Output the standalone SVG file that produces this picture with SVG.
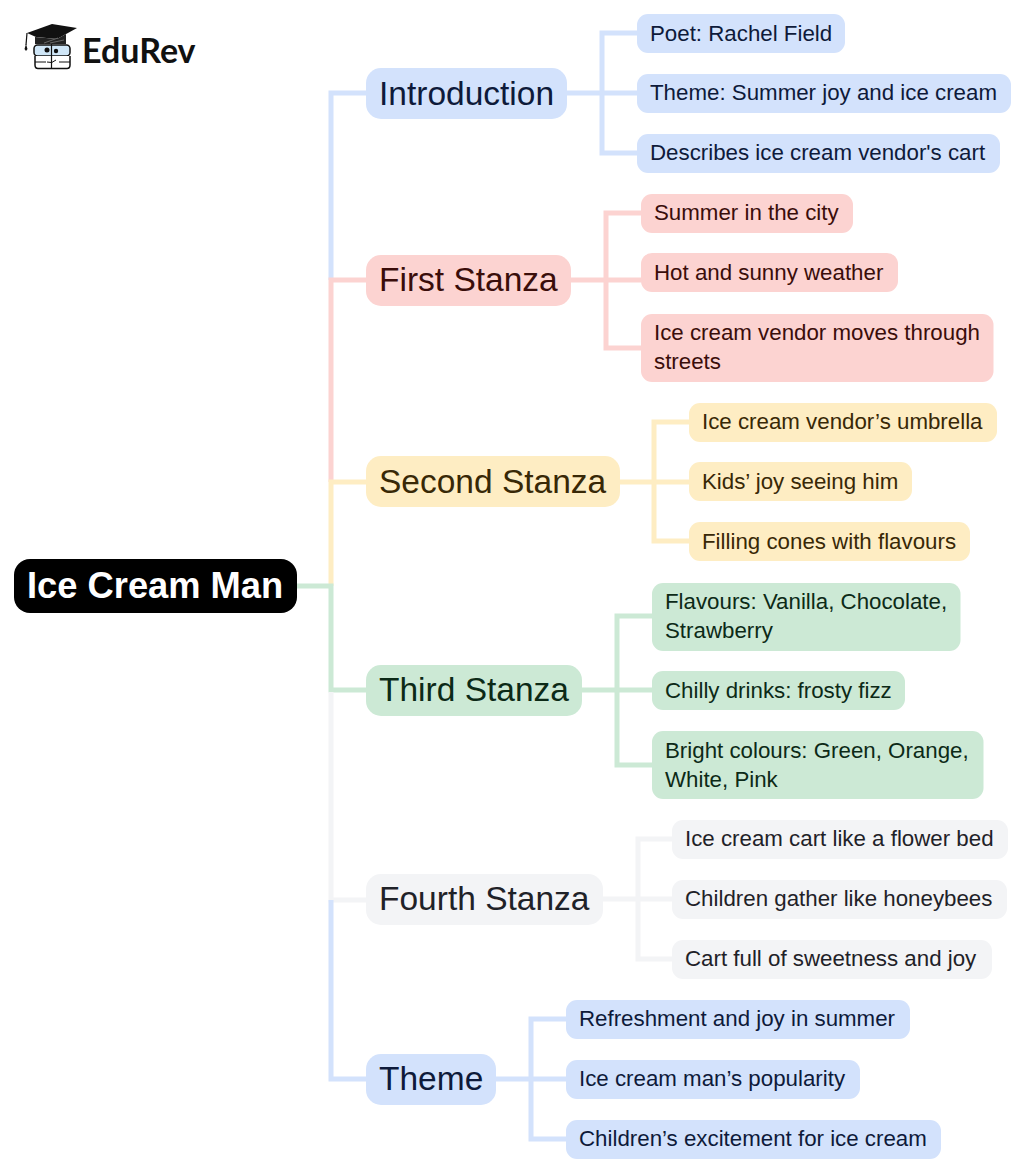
<svg xmlns="http://www.w3.org/2000/svg" width="1024" height="1172" viewBox="0 0 1024 1172">
<style>
text{font-family:"Liberation Sans",Arial,sans-serif}
.c{fill:none;stroke-width:5}
.leaf{font-size:22.3px}
.mid{font-size:33.5px}
.b{fill:#d3e2fc}.r{fill:#fcd3d1}.y{fill:#feedc3}.g{fill:#cce9d5}.w{fill:#f3f4f6}
.bs{stroke:#d3e2fc}.rs{stroke:#fcd3d1}.ys{stroke:#feedc3}.gs{stroke:#cce9d5}.ws{stroke:#f3f4f6}
.bt{fill:#0e1a3a}.rt{fill:#3a0d0a}.yt{fill:#382806}.gt{fill:#0c2a17}.wt{fill:#1f2228}
</style>
<rect width="1024" height="1172" fill="#fff"/>
<g id="connectors">
<path class="c bs" d="M366 93H331V280"/>
<path class="c rs" d="M366 280H331V482"/>
<path class="c ys" d="M366 482H331V586"/>
<path class="c gs" d="M297 586H331V690H366"/>
<path class="c ws" d="M331 692V900H366"/>
<path class="c bs" d="M331 900V1079H366"/>
<path class="c bs" d="M567 93H637M637 33H602V153H637"/>
<path class="c rs" d="M571 280H641M641 213H606V348H641"/>
<path class="c ys" d="M620 482H689M689 422H654V541H689"/>
<path class="c gs" d="M582 690H652M652 616H617V765H652"/>
<path class="c ws" d="M603 899H672M672 839H638V959H672"/>
<path class="c bs" d="M496 1079H566M566 1019H531V1139H566"/>
</g>
<g id="logo">
<path d="M27 33L52 24L77 28L57 39L36 37Z" fill="#111"/>
<path d="M35 37L57 39L66 34V44H35Z" fill="#222"/>
<path d="M27 33L26 45" stroke="#111" stroke-width="1.2" fill="none"/>
<path d="M24.5 49L26 44L27.5 49L26 51Z" fill="#111"/>
<path d="M44 43L58 38M50 43L64 40" stroke="#777" stroke-width="0.8" fill="none"/>
<rect x="34" y="45" width="36" height="11" rx="3.5" fill="#cfe6f7" stroke="#111" stroke-width="1.5"/>
<path d="M35 56V65Q35 68.500 38 68.500H67Q70 68.500 70 65V56" fill="#fff" stroke="#111" stroke-width="1.5"/>
<path d="M35 62H46M59 62H70" stroke="#111" stroke-width="1"/>
<path d="M51.500 44V69" stroke="#111" stroke-width="1.2"/>
<path d="M47 62Q52 64 56 60" stroke="#111" stroke-width="1" fill="none"/>
<circle cx="47" cy="50" r="2.500" fill="#111"/><circle cx="56" cy="51" r="2.200" fill="#111"/>
<text x="82" y="63" font-size="34" font-weight="700" style="font-family:Lato,sans-serif" fill="#111">EduRev</text>
</g>
<g id="root"><rect x="14" y="559" width="283" height="54" rx="16" fill="#000"/><text x="27" y="598" font-size="36.300" font-weight="700" fill="#fff">Ice Cream Man</text></g>
<g id="n1"><rect class="b" x="366" y="68" width="201" height="51" rx="15"/><text class="mid bt" x="379" y="104.500">Introduction</text></g>
<g id="n1a"><rect class="b" x="637" y="14" width="208" height="39" rx="11"/><text class="leaf bt" x="650" y="40.500">Poet: Rachel Field</text></g>
<g id="n1b"><rect class="b" x="637" y="74" width="374" height="39" rx="11"/><text class="leaf bt" x="650" y="100">Theme: Summer joy and ice cream</text></g>
<g id="n1c"><rect class="b" x="637" y="134" width="363" height="39" rx="11"/><text class="leaf bt" x="650" y="160">Describes ice cream vendor's cart</text></g>
<g id="n2"><rect class="r" x="366" y="255" width="205" height="51" rx="15"/><text class="mid rt" x="379" y="291">First Stanza</text></g>
<g id="n2a"><rect class="r" x="641" y="194" width="212" height="39" rx="11"/><text class="leaf rt" x="654" y="220">Summer in the city</text></g>
<g id="n2b"><rect class="r" x="641" y="253" width="257" height="39" rx="11"/><text class="leaf rt" x="654" y="280">Hot and sunny weather</text></g>
<g id="n2c"><rect class="r" x="641" y="314" width="352.500" height="68" rx="11"/><text class="leaf rt" x="654" y="340">Ice cream vendor moves through</text><text class="leaf rt" x="654" y="369">streets</text></g>
<g id="n3"><rect class="y" x="366" y="456" width="254" height="51" rx="15"/><text class="mid yt" x="379" y="493">Second Stanza</text></g>
<g id="n3a"><rect class="y" x="689" y="403" width="308" height="39" rx="11"/><text class="leaf yt" x="702" y="429">Ice cream vendor’s umbrella</text></g>
<g id="n3b"><rect class="y" x="689" y="462" width="223" height="39" rx="11"/><text class="leaf yt" x="702" y="489">Kids’ joy seeing him</text></g>
<g id="n3c"><rect class="y" x="689" y="522" width="281" height="39" rx="11"/><text class="leaf yt" x="702" y="549">Filling cones with flavours</text></g>
<g id="n4"><rect class="g" x="366" y="665" width="216" height="51" rx="15"/><text class="mid gt" x="379" y="701">Third Stanza</text></g>
<g id="n4a"><rect class="g" x="652" y="583" width="308.500" height="68" rx="11"/><text class="leaf gt" x="665" y="609">Flavours: Vanilla, Chocolate,</text><text class="leaf gt" x="665" y="638">Strawberry</text></g>
<g id="n4b"><rect class="g" x="652" y="671" width="253" height="39" rx="11"/><text class="leaf gt" x="665" y="698">Chilly drinks: frosty fizz</text></g>
<g id="n4c"><rect class="g" x="652" y="731" width="331.500" height="68" rx="11"/><text class="leaf gt" x="665" y="758">Bright colours: Green, Orange,</text><text class="leaf gt" x="665" y="787">White, Pink</text></g>
<g id="n5"><rect class="w" x="366" y="874" width="237" height="51" rx="15"/><text class="mid wt" x="379" y="910">Fourth Stanza</text></g>
<g id="n5a"><rect class="w" x="672" y="820" width="336" height="39" rx="11"/><text class="leaf wt" x="685" y="846">Ice cream cart like a flower bed</text></g>
<g id="n5b"><rect class="w" x="672" y="880" width="335" height="39" rx="11"/><text class="leaf wt" x="685" y="906">Children gather like honeybees</text></g>
<g id="n5c"><rect class="w" x="672" y="940" width="320" height="39" rx="11"/><text class="leaf wt" x="685" y="966">Cart full of sweetness and joy</text></g>
<g id="n6"><rect class="b" x="366" y="1054" width="130" height="51" rx="15"/><text class="mid bt" x="379" y="1090">Theme</text></g>
<g id="n6a"><rect class="b" x="566" y="1000" width="344" height="39" rx="11"/><text class="leaf bt" x="579" y="1026">Refreshment and joy in summer</text></g>
<g id="n6b"><rect class="b" x="566" y="1060" width="294" height="39" rx="11"/><text class="leaf bt" x="579" y="1086">Ice cream man’s popularity</text></g>
<g id="n6c"><rect class="b" x="566" y="1120" width="375" height="39" rx="11"/><text class="leaf bt" x="579" y="1146">Children’s excitement for ice cream</text></g>
</svg>
